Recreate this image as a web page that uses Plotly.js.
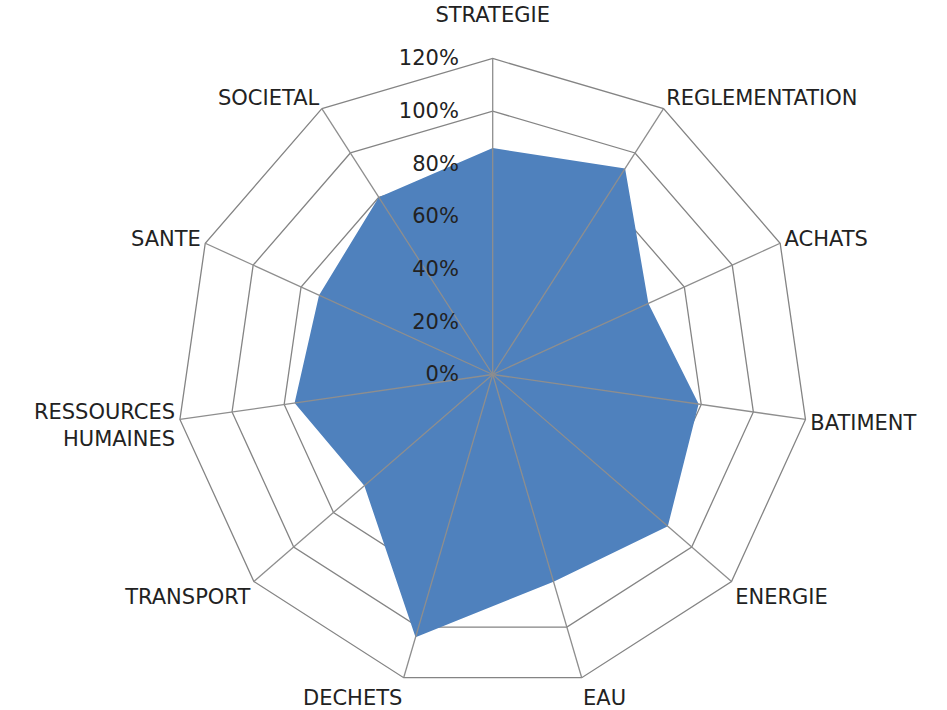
<!DOCTYPE html>
<html>
<head>
<meta charset="utf-8">
<script src="https://cdn.plot.ly/plotly-3.0.1.min.js"></script>
<style>html,body{margin:0;padding:0;background:#fff}#chart{width:947px;height:710px}</style>
</head>
<body>
<div id="chart"></div>
<script>
const categories = ["STRATEGIE<br> ","REGLEMENTATION","ACHATS","BATIMENT","ENERGIE","EAU","DECHETS","TRANSPORT","RESSOURCES<br>HUMAINES","SANTE","SOCIETAL"];
const scores = [86, 93, 65, 79, 88, 82, 104, 64.5, 76, 72.5, 80];
const radialTicks = [0, 20, 40, 60, 80, 100, 120];
const radialTickText = ["0%","20%","40%","60%","80%","100%","120%"];

const fontFamily = "DejaVu Sans, Open Sans, sans-serif";

const traces = [
  {
    type: "scatterpolar",
    subplot: "polar",
    theta: categories,
    r: scores,
    fill: "toself",
    fillcolor: "#4f81bd",
    mode: "lines",
    line: {color: "#4f81bd", width: 0},
    hoverinfo: "skip"
  },
  {
    type: "scatterpolar",
    subplot: "polar2",
    theta: categories,
    r: scores,
    mode: "lines",
    line: {color: "rgba(0,0,0,0)", width: 0},
    opacity: 0,
    hoverinfo: "skip"
  }
];

const domain = {x: [0.18659, 0.85396], y: [0.02746, 0.91761]};

const layout = {
  width: 947,
  height: 710,
  margin: {l: 0, r: 0, t: 0, b: 0},
  paper_bgcolor: "#ffffff",
  showlegend: false,
  font: {family: fontFamily, size: 21, color: "#222222"},
  polar: {
    domain: domain,
    gridshape: "linear",
    bgcolor: "#ffffff",
    angularaxis: {
      type: "category",
      direction: "clockwise",
      rotation: 90,
      showgrid: false,
      showline: true,
      linecolor: "#848484",
      linewidth: 1.3,
      ticks: "",
      showticklabels: true,
      tickfont: {family: fontFamily, size: 21, color: "#222222"}
    },
    radialaxis: {
      range: [0, 120],
      tickvals: radialTicks,
      showticklabels: false,
      showgrid: true,
      gridcolor: "#848484",
      gridwidth: 1.3,
      showline: false,
      ticks: "",
      layer: "below traces"
    }
  },
  polar2: {
    domain: domain,
    gridshape: "linear",
    bgcolor: "rgba(0,0,0,0)",
    angularaxis: {
      type: "category",
      direction: "clockwise",
      rotation: 90,
      showgrid: true,
      gridcolor: "#8e8e8e",
      gridwidth: 1.3,
      showline: false,
      ticks: "",
      showticklabels: false
    },
    radialaxis: {
      range: [0, 120],
      angle: 90,
      side: "counterclockwise",
      tickvals: radialTicks,
      ticktext: radialTickText,
      showticklabels: true,
      tickangle: 90,
      tickfont: {family: fontFamily, size: 21, color: "#222222"},
      showgrid: false,
      showline: false,
      ticks: "outside",
      ticklen: 26,
      tickcolor: "rgba(0,0,0,0)",
      layer: "above traces"
    }
  }
};

Plotly.newPlot("chart", traces, layout, {displayModeBar: false, staticPlot: true});
</script>
</body>
</html>
